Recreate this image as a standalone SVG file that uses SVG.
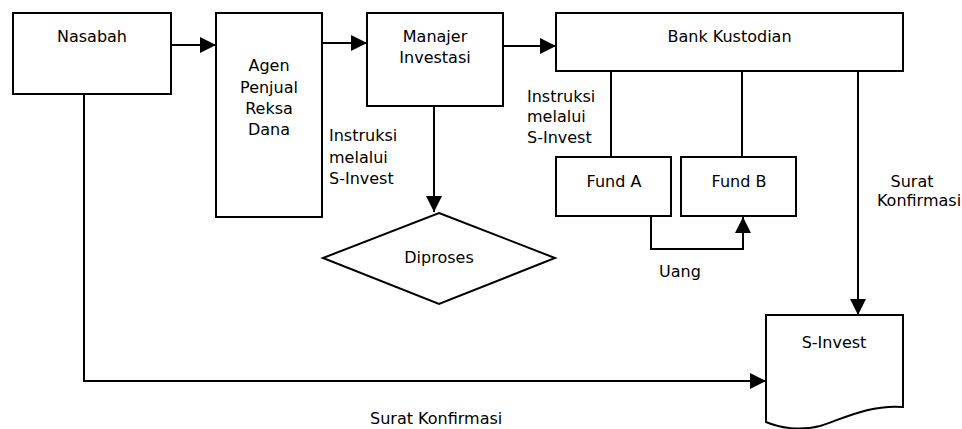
<svg xmlns="http://www.w3.org/2000/svg" width="962" height="429" viewBox="0 0 962 429">
<defs>
<marker id="ah" markerUnits="userSpaceOnUse" markerWidth="16" markerHeight="16" refX="16" refY="8" orient="auto">
<path d="M0,0 L16,8 L0,16 z" fill="#000"/>
</marker>
<style>
.box{fill:#fff;stroke:#000;stroke-width:2}
.ln{fill:none;stroke:#000;stroke-width:2}
text{font-family:"DejaVu Sans",Verdana,sans-serif;font-size:16px;fill:#000}
.c{text-anchor:middle}
</style>
</defs>
<rect width="962" height="429" fill="#fff"/>
<g id="connectors">
<path class="ln" d="M171,45 H216" marker-end="url(#ah)"/>
<path class="ln" d="M322,43 H367" marker-end="url(#ah)"/>
<path class="ln" d="M503,46 H556" marker-end="url(#ah)"/>
<path class="ln" d="M434,106 V212" marker-end="url(#ah)"/>
<path class="ln" d="M611,71 V157"/>
<path class="ln" d="M742,71 V157"/>
<path class="ln" d="M858,71 V315" marker-end="url(#ah)"/>
<path class="ln" d="M651,216 V249 H743 V217" marker-end="url(#ah)"/>
<path class="ln" d="M84,94 V381 H766" marker-end="url(#ah)"/>
</g>
<g id="nasabah">
<rect class="box" x="13" y="13" width="158" height="81"/>
<text class="c" x="92" y="42">Nasabah</text>
</g>
<g id="agen">
<rect class="box" x="216" y="13" width="106" height="204"/>
<text class="c" x="269" y="71">Agen</text>
<text class="c" x="269" y="92.5">Penjual</text>
<text class="c" x="269" y="114">Reksa</text>
<text class="c" x="269" y="135">Dana</text>
</g>
<g id="manajer">
<rect class="box" x="367" y="13" width="136" height="93"/>
<text class="c" x="435" y="42">Manajer</text>
<text class="c" x="435" y="63">Investasi</text>
</g>
<g id="bank">
<rect class="box" x="556" y="13" width="347" height="58"/>
<text class="c" x="729.5" y="42">Bank Kustodian</text>
</g>
<g id="fundA">
<rect class="box" x="556" y="157" width="115" height="59"/>
<text class="c" x="614" y="187">Fund A</text>
</g>
<g id="fundB">
<rect class="box" x="681" y="157" width="115" height="59"/>
<text class="c" x="739" y="187">Fund B</text>
</g>
<g id="diproses">
<polygon class="box" points="439,213 555,258 439,304 323,258"/>
<text class="c" x="439" y="263">Diproses</text>
</g>
<g id="sinvest">
<path class="box" d="M766,315 H903 V407 C870,404 840,420 820,426 C800,431 780,428 766,422 Z"/>
<text class="c" x="834" y="348">S-Invest</text>
</g>
<g id="labels">
<text x="329" y="141">Instruksi</text>
<text x="329" y="162.5">melalui</text>
<text x="329" y="184">S-Invest</text>
<text x="527" y="101.5">Instruksi</text>
<text x="527" y="122">melalui</text>
<text x="527" y="143">S-Invest</text>
<text class="c" x="912" y="186.5">Surat</text>
<text class="c" x="919" y="206">Konfirmasi</text>
<text class="c" x="680" y="277">Uang</text>
<text x="370" y="424">Surat Konfirmasi</text>
</g>
</svg>
